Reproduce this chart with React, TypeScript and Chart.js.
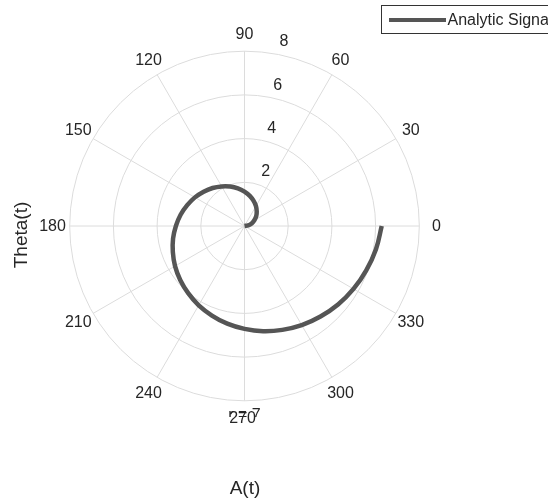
import React, { useEffect, useRef } from "react";
import { Chart, registerables } from "chart.js";

Chart.register(...registerables);

// Spiral: phase (degrees) and amplitude
const thetaDeg = [
  0, 10, 20, 30, 40, 50, 60, 70, 80, 90, 100, 110, 120, 130, 140, 150, 160, 170,
  180, 190, 200, 210, 220, 230, 240, 250, 260, 270, 280, 290, 300, 310, 320, 330,
  340, 350, 360,
];
const amplitude = [
  0, 0.17, 0.35, 0.52, 0.7, 0.87, 1.05, 1.22, 1.4, 1.57, 1.75, 1.92, 2.09, 2.27,
  2.44, 2.62, 2.79, 2.97, 3.14, 3.32, 3.49, 3.67, 3.84, 4.01, 4.19, 4.36, 4.54,
  4.71, 4.89, 5.06, 5.24, 5.41, 5.59, 5.76, 5.93, 6.11, 6.28,
];
const rTicks = [2, 4, 6, 8];
const angleTicks = [0, 30, 60, 90, 120, 150, 180, 210, 240, 270, 300, 330];
const rMax = 8;
const seriesLabel = "Analytic Signal";
const xTitle = "A(t)";
const yTitle = "Theta(t)";
const overlapText = "r = 7";

const FONT = '"Liberation Sans", Arial, Helvetica, sans-serif';
const TEXT = "#262626";
const GRID = "#dcdcdc";
const LINE = "#555555";

const polarPlugin = {
  id: "polarDecor",
  beforeDatasetsDraw(chart: any) {
    const ctx = chart.ctx;
    const xs = chart.scales.x;
    const ys = chart.scales.y;
    const cx = xs.getPixelForValue(0);
    const cy = ys.getPixelForValue(0);
    const unit = xs.getPixelForValue(1) - cx;
    ctx.save();
    ctx.strokeStyle = GRID;
    ctx.lineWidth = 1;
    for (const r of rTicks) {
      ctx.beginPath();
      ctx.arc(cx, cy, r * unit, 0, Math.PI * 2);
      ctx.stroke();
    }
    for (const a of angleTicks) {
      const rad = (a * Math.PI) / 180;
      ctx.beginPath();
      ctx.moveTo(cx, cy);
      ctx.lineTo(xs.getPixelForValue(rMax * Math.cos(rad)), ys.getPixelForValue(rMax * Math.sin(rad)));
      ctx.stroke();
    }
    ctx.restore();
  },
  afterDraw(chart: any) {
    const ctx = chart.ctx;
    const xs = chart.scales.x;
    const ys = chart.scales.y;
    const cx = xs.getPixelForValue(0);
    const cy = ys.getPixelForValue(0);
    const unit = xs.getPixelForValue(1) - cx;
    ctx.save();
    ctx.fillStyle = TEXT;
    ctx.textAlign = "center";
    ctx.textBaseline = "middle";

    // overlapping r-label drawn under 270
    ctx.save();
    ctx.beginPath();
    ctx.rect(cx - 30, cy + 182, 60, 9);
    ctx.clip();
    ctx.font = `16px ${FONT}`;
    ctx.fillText(overlapText, cx, cy + 189.5);
    ctx.restore();

    // angle labels
    ctx.font = `16px ${FONT}`;
    for (const a of angleTicks) {
      const rad = (a * Math.PI) / 180;
      const px = cx + 192 * Math.cos(rad) - (a === 270 ? 2 : 0);
      const py = cy + 1 - 192 * Math.sin(rad);
      ctx.fillText(String(a), px, py);
    }

    // r tick labels
    const ra = (82 * Math.PI) / 180;
    for (const r of rTicks) {
      const px = cx + r * unit * Math.cos(ra) + 15;
      const py = cy - r * unit * Math.sin(ra) - 11;
      ctx.fillText(String(r), px, py);
    }

    // axis titles
    ctx.font = `19px ${FONT}`;
    ctx.fillText(xTitle, cx + 0.5, 489);
    ctx.save();
    ctx.translate(22, cy + 9);
    ctx.rotate(-Math.PI / 2);
    ctx.fillText(yTitle, 0, 0);
    ctx.restore();

    // legend
    ctx.fillStyle = "#ffffff";
    ctx.fillRect(381, 5, 200, 28);
    ctx.strokeStyle = "#333333";
    ctx.lineWidth = 1;
    ctx.strokeRect(381.5, 5.5, 200, 28);
    ctx.strokeStyle = LINE;
    ctx.lineWidth = 4;
    ctx.beginPath();
    ctx.moveTo(389, 20);
    ctx.lineTo(446, 20);
    ctx.stroke();
    ctx.fillStyle = TEXT;
    ctx.textAlign = "left";
    ctx.font = `16px ${FONT}`;
    ctx.fillText(seriesLabel, 447.5, 20.5);
    ctx.restore();
  },
};

export default function App() {
  const ref = useRef<HTMLCanvasElement | null>(null);
  useEffect(() => {
    if (!ref.current) return;
    const pts = thetaDeg.map((d, i) => {
      const rad = (d * Math.PI) / 180;
      return { x: amplitude[i] * Math.cos(rad), y: amplitude[i] * Math.sin(rad) };
    });
    const chart = new Chart(ref.current, {
      type: "scatter",
      data: {
        datasets: [
          {
            label: seriesLabel,
            data: pts,
            showLine: true,
            borderColor: LINE,
            backgroundColor: LINE,
            borderWidth: 4.5,
            pointRadius: 0,
            tension: 0.4,
          },
        ],
      },
      options: {
        animation: false,
        responsive: false,
        devicePixelRatio: 1,
        layout: { padding: { left: 69.7, right: 128.7, top: 51.2, bottom: 103.2 } },
        plugins: { legend: { display: false }, tooltip: { enabled: false } },
        scales: {
          x: { type: "linear", min: -rMax, max: rMax, display: false },
          y: { type: "linear", min: -rMax, max: rMax, display: false },
        },
      },
      plugins: [polarPlugin],
    });
    return () => chart.destroy();
  }, []);
  return (
    <div style={{ position: "fixed", left: 0, top: 0, width: 548, height: 504, background: "#fff" }}>
      <canvas ref={ref} width={548} height={504} style={{ width: 548, height: 504 }} />
    </div>
  );
}
